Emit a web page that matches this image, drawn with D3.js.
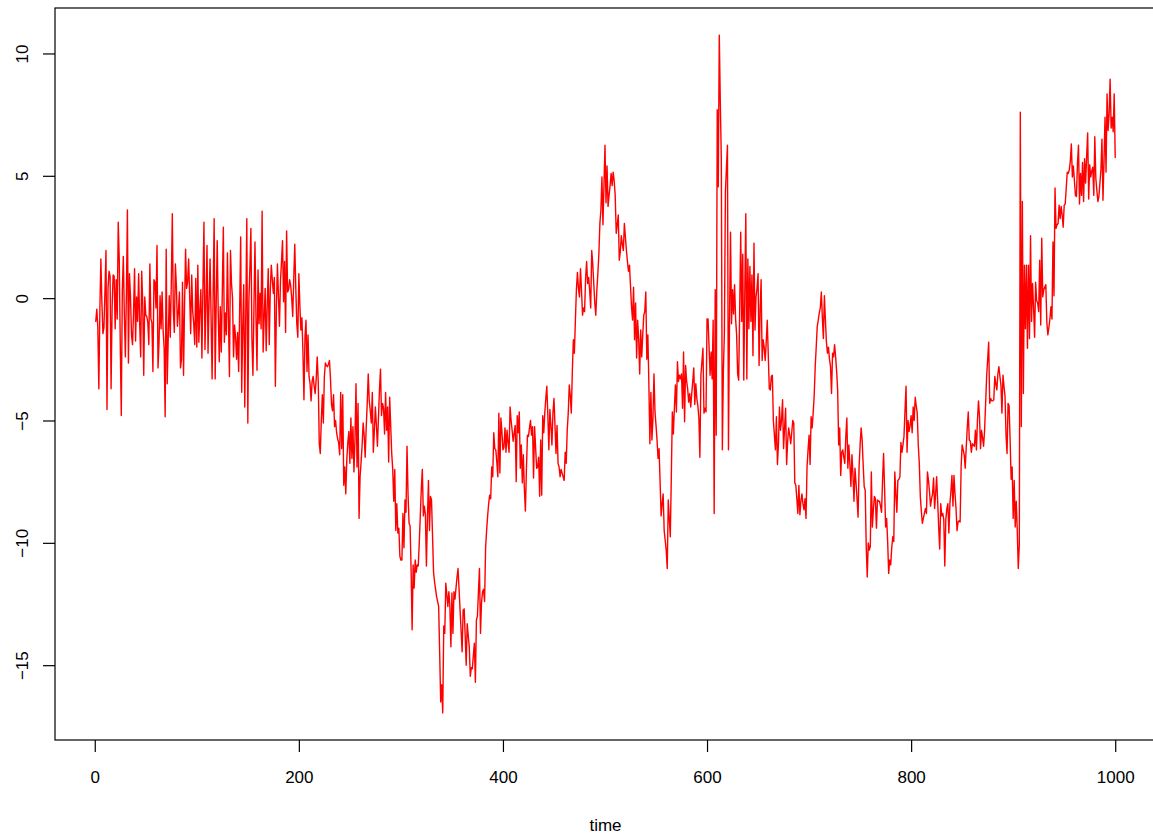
<!DOCTYPE html>
<html>
<head>
<meta charset="utf-8">
<script src="https://cdn.jsdelivr.net/npm/d3@7"></script>
<style>
  body { margin: 0; background: #fff; }
  svg { display: block; font-family: "Liberation Sans", Arial, Helvetica, sans-serif; }
</style>
</head>
<body>
<div id="chart"></div>
<script>
// values, 100 time steps per block
const block1 = [
  -0.95, -0.45, -1.2, -3.7, -0.5, 1.6, -0.2, -1.45, -1.2, 0.3,
  1.95, -4.55, 0.4, 1.1, 0.9, -3.7, -0.4, 0.95, 0.9, -1.25,
  0.75, -0.85, 3.1, 1.6, -1.9, -4.8, 0.3, 1.7, -0.7, -2.4,
  0.2, 3.6, -2.65, 1.0, 0.1, -1.5, -1.9, -0.6, 1.2, -1.75,
  0.05, -0.95, 1.0, -1.0, -2.4, 1.1, -0.2, -3.15, 0.05, -0.7,
  -0.75, -1.0, -1.9, 1.4, -0.85, -1.0, -3.0, 0.75, 0.65, -0.4,
  2.15, -2.85, -1.8, 0.1, -1.25, 0.25, -1.3, -2.05, -4.85, 2.0,
  -3.5, -1.65, 0.1, -1.6, 0.6, 3.45, -0.55, -1.4, 1.4, 0.5,
  -1.15, -0.55, 0.25, -2.85, -2.5, 0.65, -3.15, -0.3, 2.0, 0.4,
  0.65, 1.6, 0.1, -1.45, 0.95, -0.55, -1.05, -1.9, 0.8, -2.0
]
const block2 = [
  1.35, -1.8, -0.5, 0.35, -2.45, 0.4, 3.1, -2.1, -0.3, 2.15,
  -2.25, -0.2, 1.6, -0.8, -3.3, 0.1, 3.25, -3.3, -0.3, 2.35,
  -0.6, -2.6, -0.35, -2.2, 0.3, 2.9, -1.8, -0.6, -1.5, 1.85,
  -0.8, -3.2, 1.95, 0.6, 0.0, -2.4, -1.1, -1.6, -2.5, -1.4,
  -3.0, -0.5, 2.5, -3.85, -1.2, 0.55, -4.45, -0.6, 3.25, -5.1,
  -0.15, 1.2, 2.85, -1.65, -3.15, -0.4, 2.3, -0.8, -2.95, 1.15,
  -1.05, 0.2, -1.25, 3.55, -2.2, -0.8, 0.4, -2.15, -0.3, 1.2,
  -1.9, 0.3, 1.35, 0.75, 0.2, 0.85, -3.6, -0.4, 1.4, 0.1,
  -1.15, 0.7, 1.5, 2.35, -0.15, 1.5, -1.4, 2.75, 0.25, 0.35,
  0.75, 0.5, 0.0, -0.75, 0.8, 2.2, 0.4, -1.05, -1.6, 1.0
]
const block3 = [
  -0.3, -1.3, -0.8, -2.2, -4.15, -1.6, -0.9, -3.0, -1.5, -3.2,
  -3.5, -4.2, -3.4, -3.2, -3.6, -3.9, -3.3, -2.4, -3.4, -5.95,
  -6.35, -5.0, -3.95, -5.1, -3.2, -2.65, -2.75, -2.8, -2.7, -2.55,
  -3.3, -4.35, -4.6, -3.95, -5.25, -5.0, -5.5, -5.75, -5.9, -6.4,
  -3.85, -6.15, -3.95, -7.65, -6.9, -8.0, -6.6, -5.9, -5.45, -6.75,
  -4.9, -6.55, -5.25, -7.1, -5.8, -3.5, -6.9, -4.3, -9.0, -7.3,
  -6.7, -6.0, -5.1, -5.6, -6.5, -5.3, -4.3, -3.1, -4.2, -4.6,
  -5.1, -3.85, -6.3, -5.4, -4.45, -5.2, -6.05, -4.9, -3.75, -2.9,
  -4.8, -4.3, -4.5, -5.55, -3.85, -5.4, -4.45, -6.7, -4.05, -5.2,
  -6.35, -7.0, -8.3, -7.0, -9.5, -8.4, -9.6, -9.4, -10.55, -10.7
]
const block4 = [
  -10.7, -8.8, -10.2, -8.25, -8.75, -6.05, -8.0, -9.2, -9.3, -11.1,
  -13.55, -10.9, -11.85, -10.7, -11.2, -10.9, -10.95, -10.0, -8.9, -7.8,
  -7.0, -8.9, -8.5, -8.85, -10.95, -9.0, -7.45, -9.5, -8.1, -8.25,
  -9.7, -11.2, -11.6, -11.9, -12.2, -12.4, -12.6, -14.5, -16.5, -15.8,
  -16.95, -13.4, -13.7, -11.65, -12.1, -12.6, -12.0, -12.6, -14.25, -12.05,
  -13.7, -12.0, -12.3, -11.85, -11.4, -11.05, -11.9, -12.75, -13.6, -14.45,
  -12.75, -12.7, -13.8, -15.0, -13.3, -13.8, -14.25, -15.45, -15.1, -15.15,
  -14.6, -14.1, -15.7, -13.15, -13.0, -12.0, -11.05, -13.7, -12.45, -12.0,
  -11.9, -12.4, -10.2, -9.5, -8.9, -8.4, -8.05, -8.2, -6.9, -7.3,
  -5.5, -6.15, -6.2, -6.7, -7.3, -4.7, -7.15, -4.9, -5.45, -6.2
]
const block5 = [
  -6.1, -5.3, -6.3, -5.4, -5.9, -6.3, -4.45, -5.0, -5.4, -5.85,
  -5.5, -5.2, -7.5, -4.8, -5.5, -4.65, -6.95, -6.0, -7.55, -6.4,
  -7.8, -8.7, -7.0, -5.6, -5.65, -5.3, -5.0, -5.6, -5.25, -7.35,
  -5.25, -6.1, -6.95, -6.9, -6.5, -8.1, -5.8, -8.05, -4.8, -5.5,
  -4.7, -4.1, -3.6, -4.8, -6.2, -4.55, -5.2, -6.0, -4.7, -4.1,
  -5.2, -6.35, -5.2, -6.75, -6.9, -7.3, -7.0, -7.15, -7.3, -7.45,
  -6.3, -6.75, -5.4, -4.7, -3.55, -4.0, -4.7, -3.0, -1.7, -2.25,
  -0.9, 0.35, 1.05, 0.4, 0.05, 1.2, 0.3, -0.7, -0.4, -0.55,
  0.8, 1.5, 0.6, 0.85, 0.3, -0.4, 1.95, 1.4, 0.6, -0.2,
  -0.7, 0.3, 1.0, 1.8, 3.05, 3.6, 4.95, 3.0, 4.6, 6.25
]
const block6 = [
  3.9, 5.4, 3.75, 4.2, 4.6, 5.1, 4.6, 5.15, 4.8, 4.2,
  2.65, 3.0, 3.4, 1.55, 1.9, 2.55, 2.2, 1.95, 3.05, 2.5,
  1.95, 1.5, 1.1, 1.35, 0.5, -0.35, -0.9, 0.45, -1.7, -0.2,
  -2.45, -0.9, -1.65, -3.1, -1.3, -2.4, -1.5, -0.7, -0.55, 0.25,
  -2.5, -1.5, -3.5, -5.95, -3.85, -5.8, -4.9, -3.1, -4.65, -5.2,
  -5.8, -6.55, -6.15, -7.5, -8.9, -8.4, -8.0, -9.5, -9.9, -10.3,
  -11.05, -8.25, -9.0, -9.75, -7.3, -4.65, -5.55, -4.5, -3.55, -4.65,
  -2.6, -3.4, -3.15, -3.3, -3.1, -4.5, -2.2, -5.05, -2.75, -3.4,
  -3.7, -4.25, -3.9, -4.45, -3.9, -3.4, -2.85, -4.35, -3.5, -4.1,
  -4.4, -4.9, -6.5, -3.15, -2.6, -2.05, -4.7, -4.5, -4.65, -0.85
]
const block7 = [
  -0.85, -2.0, -3.15, -2.2, -3.3, -0.9, -8.8, 0.35, -5.6, 7.7,
  4.55, 10.75, 8.0, 5.7, -6.2, -3.0, -1.4, 4.35, 5.3, 6.25,
  -6.2, -1.0, 2.7, -1.05, 0.35, -0.65, 0.55, -0.85, -1.5, -3.1,
  -3.35, -0.5, 2.7, -0.95, 1.8, -3.35, 0.2, 3.45, -3.3, 1.6,
  -1.25, 1.3, -0.95, 0.95, -2.35, 2.25, -1.3, 0.05, 0.4, 1.0,
  -2.75, -0.5, 0.75, -2.55, -1.7, -2.0, -2.55, -1.8, -0.9, -2.3,
  -3.7, -3.75, -3.2, -3.15, -5.0, -5.6, -6.2, -4.85, -6.8, -5.95,
  -4.45, -5.4, -5.0, -4.15, -6.15, -5.3, -4.5, -6.8, -5.85, -5.3,
  -5.6, -5.95, -5.5, -5.0, -5.1, -7.55, -7.65, -8.2, -8.8, -7.65,
  -8.85, -8.3, -8.0, -8.4, -8.65, -8.2, -9.0, -6.9, -6.2, -5.6
]
const block8 = [
  -6.8, -4.85, -5.3, -4.7, -4.0, -2.8, -2.0, -1.15, -0.9, -0.6,
  -0.4, 0.25, -0.8, -1.65, 0.1, -0.9, -1.8, -2.25, -2.0, -2.5,
  -2.8, -3.9, -2.25, -2.4, -1.9, -2.4, -3.0, -3.75, -6.0, -5.3,
  -7.25, -6.3, -6.2, -6.5, -6.75, -5.65, -4.9, -6.95, -6.0, -6.8,
  -7.7, -6.4, -7.2, -8.3, -6.95, -7.55, -8.2, -8.95, -6.9, -6.0,
  -5.3, -5.8, -6.8, -7.7, -7.85, -10.15, -11.4, -10.0, -10.3, -10.15,
  -7.1, -9.35, -8.65, -8.1, -8.2, -9.4, -8.25, -8.3, -8.3, -8.5,
  -8.75, -7.45, -6.35, -7.8, -9.35, -9.0, -9.95, -11.25, -10.7, -10.9,
  -10.2, -9.75, -9.95, -7.1, -8.0, -8.75, -7.45, -7.4, -7.3, -5.9,
  -6.3, -6.0, -5.65, -4.6, -3.6, -6.3, -5.0, -5.45, -5.2, -4.8
]
const block9 = [
  -5.5, -4.45, -5.0, -4.05, -4.4, -4.7, -6.0, -6.75, -8.1, -8.7,
  -9.2, -9.0, -8.8, -8.6, -8.8, -7.1, -7.45, -7.9, -8.5, -8.2,
  -8.0, -7.35, -8.6, -8.0, -7.3, -8.3, -9.35, -10.25, -8.4, -8.9,
  -8.8, -9.05, -10.95, -9.05, -8.6, -8.4, -9.6, -8.4, -7.9, -7.25,
  -8.5, -7.25, -8.0, -8.6, -9.5, -9.15, -9.1, -9.15, -6.9, -6.0,
  -6.2, -6.4, -6.95, -6.1, -5.3, -4.65, -5.8, -5.85, -6.3, -5.95,
  -6.0, -6.05, -5.4, -6.2, -5.0, -4.2, -4.85, -6.15, -5.4, -5.7,
  -6.05, -5.4, -4.3, -3.2, -2.5, -1.8, -4.3, -4.1, -4.2, -4.2,
  -4.15, -3.2, -3.5, -3.75, -3.1, -2.8, -3.2, -3.55, -4.7, -3.15,
  -3.6, -4.0, -5.6, -6.35, -4.3, -4.4, -5.8, -7.4, -6.9, -9.0
]
const block10 = [
  -7.45, -9.35, -8.3, -9.5, -11.05, -10.1, 7.6, -5.25, 3.95, -3.9,
  1.35, -1.25, 1.35, -2.05, 1.35, -1.65, 2.55, -0.95, 0.6, -0.4,
  -1.6, 0.65, -0.1, -0.2, -0.55, 1.55, -1.1, 2.45, 0.05, 0.35,
  0.45, 0.55, -1.0, -1.5, -1.2, -0.85, -0.35, -0.85, 2.3, 0.1,
  4.5, 2.85, 3.0, 3.05, 3.8, 3.25, 3.75, 3.4, 2.9, 3.8,
  3.85, 4.5, 5.15, 5.1, 5.25, 5.6, 6.3, 4.95, 5.4, 4.8,
  4.2, 4.15, 5.5, 6.25, 3.85, 5.1, 4.2, 5.55, 3.95, 5.7,
  4.7, 5.8, 6.75, 4.05, 5.45, 4.95, 5.2, 5.35, 4.2, 6.6,
  4.9, 4.4, 3.95, 4.15, 4.7, 5.25, 6.5, 4.0, 5.6, 7.4,
  5.15, 8.35, 6.85, 7.5, 8.95, 6.95, 7.4, 6.8, 8.35, 5.75
]

const series = [].concat(block1, block2, block3, block4, block5,
                         block6, block7, block8, block9, block10)
const xTicks = [0, 200, 400, 600, 800, 1000]
const yTicks = [-15, -10, -5, 0, 5, 10]
const xTitle = "time"

const width = 1153
const height = 837
// plot box, like R's default (right edge falls just outside the window)
const box = { left: 55, right: 1156, top: 8, bottom: 740 }

// R pads each axis range by 4%
const n = series.length
const xPad = (n - 1) * 0.04
const [yMin, yMax] = d3.extent(series)
const yPad = (yMax - yMin) * 0.04

const x = d3.scaleLinear().domain([1 - xPad, n + xPad]).range([box.left, box.right])
const y = d3.scaleLinear().domain([yMin - yPad, yMax + yPad]).range([box.bottom, box.top])

const svg = d3.select("#chart").append("svg")
    .attr("width", width)
    .attr("height", height)

svg.append("rect")
    .attr("width", width)
    .attr("height", height)
    .attr("fill", "#fff")

const line = d3.line()
    .x((d, i) => x(i + 1))
    .y(d => y(d))

svg.append("path")
    .datum(series)
    .attr("d", line)
    .attr("fill", "none")
    .attr("stroke", "#ff0000")
    .attr("stroke-width", 1.4)
    .attr("stroke-linejoin", "round")
    .attr("stroke-linecap", "round")

svg.append("rect")
    .attr("x", box.left)
    .attr("y", box.top)
    .attr("width", box.right - box.left)
    .attr("height", box.bottom - box.top)
    .attr("fill", "none")
    .attr("stroke", "#000")
    .attr("stroke-width", 1.2)

// bottom axis
const xAxis = svg.append("g")
    .attr("transform", `translate(0,${box.bottom})`)
    .call(d3.axisBottom(x).tickValues(xTicks).tickSize(12).tickPadding(19).tickFormat(d3.format("d")))
xAxis.select(".domain").remove()
xAxis.selectAll("line").attr("stroke", "#000").attr("stroke-width", 1.2)
xAxis.selectAll("text")
    .attr("fill", "#000")
    .style("font-size", "17px")
    .style("font-family", "'Liberation Sans', Arial, sans-serif")

// left axis, labels turned to read upwards
const yAxis = svg.append("g")
    .attr("transform", `translate(${box.left},0)`)
    .call(d3.axisLeft(y).tickValues(yTicks).tickSize(12).tickFormat(d => d < 0 ? "\u2212" + Math.abs(d) : String(d)))
yAxis.select(".domain").remove()
yAxis.selectAll("line").attr("stroke", "#000").attr("stroke-width", 1.2)
yAxis.selectAll("text")
    .attr("x", null)
    .attr("dy", null)
    .attr("transform", "translate(-27,0) rotate(-90)")
    .attr("text-anchor", "middle")
    .attr("fill", "#000")
    .style("font-size", "17px")
    .style("font-family", "'Liberation Sans', Arial, sans-serif")

svg.append("text")
    .attr("x", (box.left + box.right) / 2)
    .attr("y", 831)
    .attr("text-anchor", "middle")
    .style("font-size", "17px")
    .text(xTitle)
</script>
</body>
</html>
